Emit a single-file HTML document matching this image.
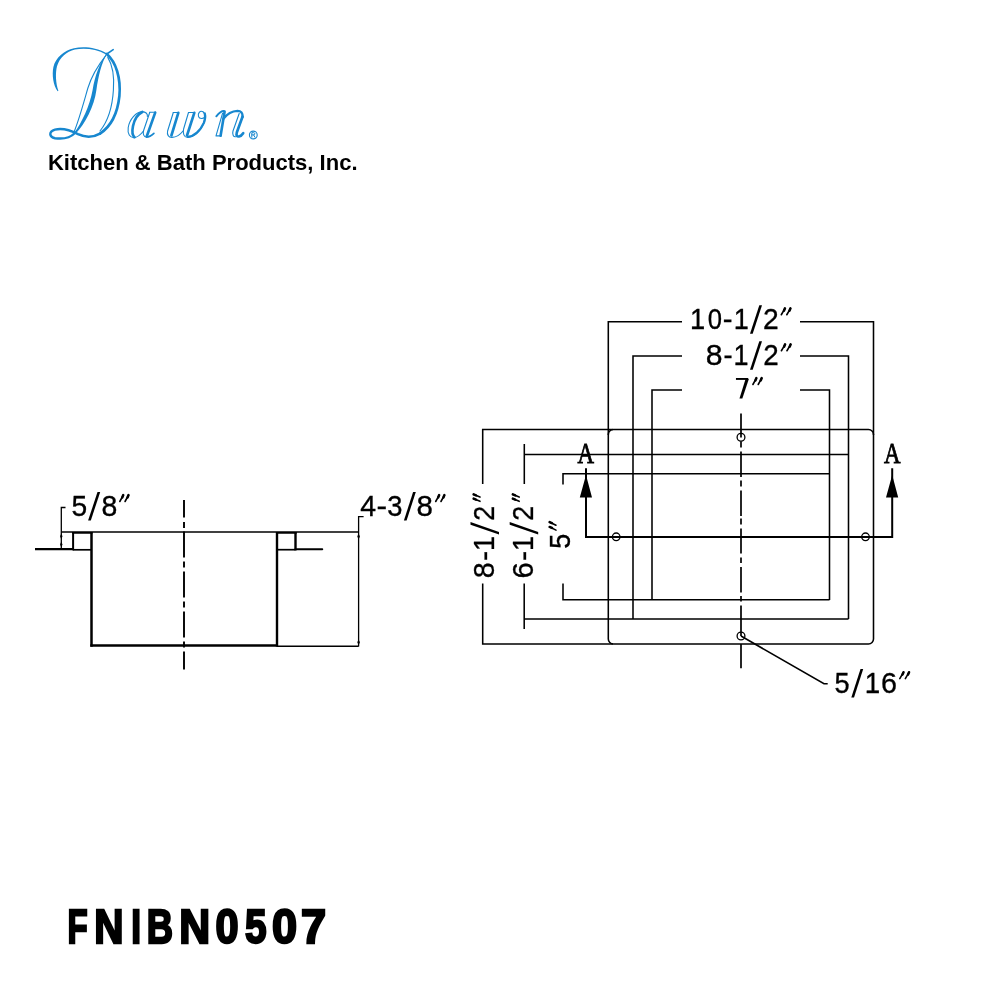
<!DOCTYPE html>
<html><head><meta charset="utf-8">
<style>
html,body{margin:0;padding:0;background:#fff;width:1000px;height:1000px;overflow:hidden}
svg{display:block}
text{fill:#000}
svg{will-change:transform}
</style></head>
<body>
<svg width="1000" height="1000" viewBox="0 0 1000 1000">
<rect width="1000" height="1000" fill="#fff"/>
<g id="logo" fill="none" stroke="#1787cf" stroke-linecap="round" stroke-linejoin="round">
  <!-- D main stroke -->
  <path stroke-width="1.60" d="M113.2 49.6L106.8 54"/>
  <path stroke="none" fill="#1787cf" d="M107 53.8C101.5 63 98.4 76 96.4 90C94.4 106 85 124 75.8 133.6L74.4 132.6C81.5 123 89.8 106 92.6 90C94.8 76 99.6 63.4 106.2 54.1Z"/>
  <path stroke-width="2.45" d="M75 133C70 138 62 139.2 55 138.2C49 137 48.5 131.5 55 129.6C62 127.8 70 130 78 134.2C85 137.5 93 137.6 100 133.6"/>
  <path stroke-width="2.65" d="M100 133.6C110 127 117.5 114 119.4 96C121 78 116 62 106.8 54"/>
  <path stroke="none" fill="#1787cf" d="M57.6 91.3C53.2 85 51.8 75 53.4 67C55.6 57.5 64 50.5 74 48.2C83 46.3 96 47 106.6 53.3L106.1 54.4C96 48.6 84 47.9 75 49.5C66.2 51.5 59.6 57.8 57 66.2C55.2 73 55.8 84 58.4 90.8Z"/>
  <!-- D inline thin -->
  <path stroke-width="1.10" d="M105.8 55.6C97.5 66 90.8 78.5 87.9 88C83.8 102 79 120 74 132"/>
  <path stroke-width="1.10" d="M107.8 57.4C112.8 65.5 114.3 78 113.4 90C112.5 105 108.5 120.5 100 131"/>
  <!-- a -->
  <path stroke-width="1.10" d="M142.3 111.6C136 112 129.5 119 128.2 127.5C127.3 134 130 137.8 134 137.6C137 137.4 140 135.5 143.5 131"/>
  <path stroke-width="2.65" d="M142.3 112C138 114 134.5 119 133 126C132 131 132.5 135.5 134.5 137.2"/>
  <path stroke-width="1.10" d="M142.3 111.6C145.5 111.8 147.8 113.5 147.4 116.5"/>
  <path stroke-width="2.65" d="M155.2 112.6L146.7 136.5"/>
  <path stroke-width="1.10" d="M149.8 112.3L143.6 130.5C142.5 134 144 137.2 146.6 137"/>
  <path stroke-width="1.10" d="M149.8 112.3H155.6"/>
  <path stroke-width="1.70" d="M146.6 137C149 137 151.5 135.5 153.9 133.3"/>
  <!-- w -->
  <path stroke-width="1.10" d="M173.3 112.5H178.5M188.5 112.5H194.5"/>
  <path stroke-width="2.65" d="M178.3 112.8L171.4 135.5"/>
  <path stroke-width="1.10" d="M173.3 112.5L167.6 131C166.8 134.5 168.5 137.6 172 137.4C176 137.2 180 135 183 131"/>
  <path stroke-width="2.65" d="M194.3 112.8L187 135.5"/>
  <path stroke-width="1.10" d="M188.5 112.5L183.6 129C182.6 133.5 184 137.4 187.5 137.4C193 137.4 199 133 202.5 126C205.5 120 206 114 203 111.8C200 110 197.5 113.5 198.5 116.5C199.5 119 203 119 205 117"/>
  <path stroke-width="2.25" d="M188 136.8C194 136.5 200.5 130.5 203.8 123C205.2 119.5 205.5 116 204.8 113.5"/>
  <!-- n -->
  <path stroke-width="1.90" d="M216.3 116.3C218.5 113.5 221 111 223.8 111"/>
  <path stroke-width="2.65" d="M224.6 111.6L220.6 135.6"/>
  <path stroke-width="1.10" d="M222.6 113.2L216 135.9H221.5"/>
  <path stroke-width="2.35" d="M223.6 118.6C227 114 232 111 237.5 110.8C241 110.8 243 113 242.5 117"/>
  <path stroke-width="2.65" d="M242.6 116.5L236.8 132.5C236 135.5 237 136.8 239 136.5C240.5 136.2 242 135 243.2 133.2"/>
  <path stroke-width="1.10" d="M239.2 113.5L233 131C232 134.5 233.5 137 235.5 136.8"/>
  <circle stroke-width="1.10" cx="253.3" cy="135" r="3.9"/>
  <path stroke-width="1.00" d="M251.8 137.3V132.7H253.8C255.2 132.7 255.2 134.9 253.8 134.9H251.8M253.6 134.9L255 137.3"/>
</g>
<g fill="none" stroke="#000">
  <path d="M35 549.2H73.1" stroke-width="2.2"/>
  <path d="M73.1 532V550.3" stroke-width="2"/>
  <path d="M72.1 532.9H92.5M276 532.9H296.7" stroke-width="1.9"/>
  <path d="M73 549.8H91.5" stroke-width="1.7"/>
  <path d="M91.5 532V646.7" stroke-width="2.5"/>
  <path d="M90.3 645.5H277" stroke-width="2.5"/>
  <path d="M277 532V646.7" stroke-width="2.4"/>
  <path d="M276 549.7H295.5" stroke-width="1.7"/>
  <path d="M295.5 532V550.4" stroke-width="2.4"/>
  <path d="M295.5 549.3H322.2" stroke-width="2.1" stroke-linecap="round"/>
  <path d="M61.3 532.1H358.6" stroke-width="1.5"/>
  <path d="M277 646.3H358.6" stroke-width="1.5"/>
  <path d="M65.5 507.5H61.3V549" stroke-width="1.3"/>
  <path d="M363.6 516.6H358.6V646.5" stroke-width="1.3"/>
  <path d="M184 500V517.5M184 522V528M184 531.5V557.5M184 561.5V567.5M184 571.5V597.5M184 601.5V607.5M184 611.5V637.5M184 641.5V647.5M184 651.5V669.5" stroke-width="1.9"/>
  <path d="M61.3 533.5L62.5 536.3L61.3 539.2L60.1 536.3ZM61.3 541.6L62.5 544.4L61.3 547.2L60.1 544.4ZM358.6 533.6L359.9 536.6L358.6 539.6L357.3 536.6ZM358.6 639.4L359.9 642.3L358.6 645.2L357.3 642.3Z" fill="#000" stroke="none"/>
</g>
<g fill="none" stroke="#000" stroke-width="1.55">
  <path d="M682 321.8H608.3V435"/>
  <path d="M800 321.8H873.5V435"/>
  <path d="M682 356H633V619"/>
  <path d="M800 356H848.5V619"/>
  <path d="M682 390H652V600"/>
  <path d="M800 390H829.5V600"/>
  <rect x="608.3" y="429.5" width="265.2" height="214.4" rx="5"/>
  <path d="M482.7 484V429.5H613"/>
  <path d="M524.3 484V444M524.3 454.5H848.5"/>
  <path d="M563 484.5V473.75H829.5"/>
  <path d="M563 583.5V599.8H829.5"/>
  <path d="M524.2 583.5V629M524.2 619H848.5"/>
  <path d="M482.7 583.5V643.9H613"/>
  <path d="M741 413.5V437.5M741 441.2V447.5M741 451.5V477M741 480.5V486.5M741 490.5V516M741 518.5V524.5M741 528.5V553.5M741 557.5V563M741 567V592.5M741 596V601.5M741 605.5V636M741 644V668.3" stroke-width="1.7"/>
  <circle cx="741" cy="437.3" r="3.9" stroke-width="1.3"/>
  <circle cx="741" cy="636" r="3.9" stroke-width="1.3"/>
  <path d="M741 636L824 683.75H827.7"/>
  <path d="M586 468.25V537H892.2V468.25" stroke-width="2"/>
  <circle cx="616.2" cy="536.8" r="3.8" stroke-width="1.3"/>
  <circle cx="865.5" cy="536.8" r="3.8" stroke-width="1.3"/>
</g>
<path d="M586 475L579.8 497.6H592Z M892.2 475L886 497.6H898.2Z" fill="#000"/>
<g fill="#000">
<text x="47.98" y="170.40" font-family="Liberation Sans" font-weight="bold" font-size="22.90" textLength="309.53" lengthAdjust="spacingAndGlyphs">Kitchen &amp; Bath Products, Inc.</text>
<text x="577.49" y="462.80" font-family="Liberation Serif" font-weight="normal" font-size="30.30" textLength="16.53" lengthAdjust="spacingAndGlyphs" stroke="#000" stroke-width="0.9">A</text>
<text x="884.00" y="462.80" font-family="Liberation Serif" font-weight="normal" font-size="30.30" textLength="16.53" lengthAdjust="spacingAndGlyphs" stroke="#000" stroke-width="0.9">A</text>
<text x="67.38" y="942.60" font-family="Liberation Sans" font-weight="bold" font-size="48.40" textLength="20.14" lengthAdjust="spacingAndGlyphs" stroke="#000" stroke-width="2.4">F</text>
<text x="94.37" y="942.60" font-family="Liberation Sans" font-weight="bold" font-size="48.40" textLength="29.27" lengthAdjust="spacingAndGlyphs" stroke="#000" stroke-width="2.4">N</text>
<text x="131.14" y="942.60" font-family="Liberation Sans" font-weight="bold" font-size="48.40" textLength="9.80" lengthAdjust="spacingAndGlyphs" stroke="#000" stroke-width="2.4">I</text>
<text x="146.82" y="942.60" font-family="Liberation Sans" font-weight="bold" font-size="48.40" textLength="26.20" lengthAdjust="spacingAndGlyphs" stroke="#000" stroke-width="2.4">B</text>
<text x="179.23" y="942.60" font-family="Liberation Sans" font-weight="bold" font-size="48.40" textLength="30.94" lengthAdjust="spacingAndGlyphs" stroke="#000" stroke-width="2.4">N</text>
<text x="215.44" y="942.60" font-family="Liberation Sans" font-weight="bold" font-size="48.40" textLength="23.08" lengthAdjust="spacingAndGlyphs" stroke="#000" stroke-width="2.4">0</text>
<text x="244.96" y="942.60" font-family="Liberation Sans" font-weight="bold" font-size="48.40" textLength="21.56" lengthAdjust="spacingAndGlyphs" stroke="#000" stroke-width="2.4">5</text>
<text x="271.95" y="942.60" font-family="Liberation Sans" font-weight="bold" font-size="48.40" textLength="25.11" lengthAdjust="spacingAndGlyphs" stroke="#000" stroke-width="2.4">0</text>
<text x="300.92" y="942.60" font-family="Liberation Sans" font-weight="bold" font-size="48.40" textLength="25.11" lengthAdjust="spacingAndGlyphs" stroke="#000" stroke-width="2.4">7</text>
<g fill="#000">
<text x="689.99" y="328.75" font-family="Liberation Sans" font-weight="normal" font-size="30.00" textLength="15.17" lengthAdjust="spacingAndGlyphs" stroke="#000" stroke-width="0.34">1</text>
<text x="707.77" y="328.75" font-family="Liberation Sans" font-weight="normal" font-size="30.00" textLength="14.26" lengthAdjust="spacingAndGlyphs" stroke="#000" stroke-width="0.34">0</text>
<text x="722.87" y="328.75" font-family="Liberation Sans" font-weight="normal" font-size="30.00" textLength="9.77" lengthAdjust="spacingAndGlyphs" stroke="#000" stroke-width="0.34">-</text>
<text x="733.71" y="328.75" font-family="Liberation Sans" font-weight="normal" font-size="30.00" textLength="15.04" lengthAdjust="spacingAndGlyphs" stroke="#000" stroke-width="0.34">1</text>
<path d="M750.00 333.75L752.70 333.75L762.00 305.25L759.30 305.25Z"/>
<text x="763.05" y="328.75" font-family="Liberation Sans" font-weight="normal" font-size="30.00" textLength="15.70" lengthAdjust="spacingAndGlyphs" stroke="#000" stroke-width="0.34">2</text>
<path d="M784.87 308.55L781.30 314.75" stroke="#000" stroke-width="1.6" stroke-linecap="round"/><path d="M784.97 308.35L783.97 310.75" stroke="#000" stroke-width="2.5" stroke-linecap="round"/><path d="M790.37 308.55L786.80 314.75" stroke="#000" stroke-width="1.6" stroke-linecap="round"/><path d="M790.47 308.35L789.47 310.75" stroke="#000" stroke-width="2.5" stroke-linecap="round"/>
<text x="705.86" y="364.75" font-family="Liberation Sans" font-weight="normal" font-size="30.00" textLength="16.78" lengthAdjust="spacingAndGlyphs" stroke="#000" stroke-width="0.34">8</text>
<text x="723.46" y="364.75" font-family="Liberation Sans" font-weight="normal" font-size="30.00" textLength="9.08" lengthAdjust="spacingAndGlyphs" stroke="#000" stroke-width="0.34">-</text>
<text x="733.61" y="364.75" font-family="Liberation Sans" font-weight="normal" font-size="30.00" textLength="15.04" lengthAdjust="spacingAndGlyphs" stroke="#000" stroke-width="0.34">1</text>
<path d="M750.00 369.75L752.70 369.75L762.00 341.25L759.30 341.25Z"/>
<text x="763.27" y="364.75" font-family="Liberation Sans" font-weight="normal" font-size="30.00" textLength="15.46" lengthAdjust="spacingAndGlyphs" stroke="#000" stroke-width="0.34">2</text>
<path d="M785.01 344.55L781.40 350.75" stroke="#000" stroke-width="1.6" stroke-linecap="round"/><path d="M785.11 344.35L784.11 346.75" stroke="#000" stroke-width="2.5" stroke-linecap="round"/><path d="M790.56 344.55L786.95 350.75" stroke="#000" stroke-width="1.6" stroke-linecap="round"/><path d="M790.66 344.35L789.66 346.75" stroke="#000" stroke-width="2.5" stroke-linecap="round"/>
<path d="M735.95 378.95H748.25" stroke="#000" stroke-width="1.9"/><path d="M745.85 378.00L748.75 379.20L742.35 398.50L739.45 398.50Z"/>
<path d="M756.30 378.30L752.90 384.50" stroke="#000" stroke-width="1.6" stroke-linecap="round"/><path d="M756.40 378.10L755.40 380.50" stroke="#000" stroke-width="2.5" stroke-linecap="round"/><path d="M761.61 378.30L758.20 384.50" stroke="#000" stroke-width="1.6" stroke-linecap="round"/><path d="M761.71 378.10L760.71 380.50" stroke="#000" stroke-width="2.5" stroke-linecap="round"/>
<text x="834.58" y="692.60" font-family="Liberation Sans" font-weight="normal" font-size="30.00" textLength="15.09" lengthAdjust="spacingAndGlyphs" stroke="#000" stroke-width="0.34">5</text>
<path d="M851.30 697.60L854.00 697.60L863.20 669.10L860.50 669.10Z"/>
<text x="864.66" y="692.60" font-family="Liberation Sans" font-weight="normal" font-size="30.00" textLength="15.43" lengthAdjust="spacingAndGlyphs" stroke="#000" stroke-width="0.34">1</text>
<text x="881.01" y="692.60" font-family="Liberation Sans" font-weight="normal" font-size="30.00" textLength="15.98" lengthAdjust="spacingAndGlyphs" stroke="#000" stroke-width="0.34">6</text>
<path d="M903.41 672.40L899.80 678.60" stroke="#000" stroke-width="1.6" stroke-linecap="round"/><path d="M903.51 672.20L902.51 674.60" stroke="#000" stroke-width="2.5" stroke-linecap="round"/><path d="M908.96 672.40L905.35 678.60" stroke="#000" stroke-width="1.6" stroke-linecap="round"/><path d="M909.06 672.20L908.06 674.60" stroke="#000" stroke-width="2.5" stroke-linecap="round"/>
<text x="71.44" y="515.50" font-family="Liberation Sans" font-weight="normal" font-size="30.00" textLength="15.67" lengthAdjust="spacingAndGlyphs" stroke="#000" stroke-width="0.34">5</text>
<path d="M88.10 520.50L90.80 520.50L100.20 492.00L97.50 492.00Z"/>
<text x="101.43" y="515.50" font-family="Liberation Sans" font-weight="normal" font-size="30.00" textLength="15.83" lengthAdjust="spacingAndGlyphs" stroke="#000" stroke-width="0.34">8</text>
<path d="M123.16 495.30L119.80 501.50" stroke="#000" stroke-width="1.6" stroke-linecap="round"/><path d="M123.26 495.10L122.26 497.50" stroke="#000" stroke-width="2.5" stroke-linecap="round"/><path d="M128.42 495.30L125.05 501.50" stroke="#000" stroke-width="1.6" stroke-linecap="round"/><path d="M128.52 495.10L127.52 497.50" stroke="#000" stroke-width="2.5" stroke-linecap="round"/>
<text x="360.22" y="515.50" font-family="Liberation Sans" font-weight="normal" font-size="30.00" textLength="15.85" lengthAdjust="spacingAndGlyphs" stroke="#000" stroke-width="0.34">4</text>
<text x="376.56" y="515.50" font-family="Liberation Sans" font-weight="normal" font-size="30.00" textLength="10.58" lengthAdjust="spacingAndGlyphs" stroke="#000" stroke-width="0.34">-</text>
<text x="387.33" y="515.50" font-family="Liberation Sans" font-weight="normal" font-size="30.00" textLength="15.20" lengthAdjust="spacingAndGlyphs" stroke="#000" stroke-width="0.34">3</text>
<path d="M403.90 520.50L406.60 520.50L415.80 492.00L413.10 492.00Z"/>
<text x="416.59" y="515.50" font-family="Liberation Sans" font-weight="normal" font-size="30.00" textLength="16.43" lengthAdjust="spacingAndGlyphs" stroke="#000" stroke-width="0.34">8</text>
<path d="M439.06 495.30L435.70 501.50" stroke="#000" stroke-width="1.6" stroke-linecap="round"/><path d="M439.16 495.10L438.16 497.50" stroke="#000" stroke-width="2.5" stroke-linecap="round"/><path d="M444.32 495.30L440.95 501.50" stroke="#000" stroke-width="1.6" stroke-linecap="round"/><path d="M444.42 495.10L443.42 497.50" stroke="#000" stroke-width="2.5" stroke-linecap="round"/>
<g transform="rotate(-90)">
<text x="-578.28" y="494.00" font-family="Liberation Sans" font-weight="normal" font-size="30.00" textLength="15.95" lengthAdjust="spacingAndGlyphs" stroke="#000" stroke-width="0.34">8</text>
<text x="-560.99" y="494.00" font-family="Liberation Sans" font-weight="normal" font-size="30.00" textLength="10.18" lengthAdjust="spacingAndGlyphs" stroke="#000" stroke-width="0.34">-</text>
<text x="-550.89" y="494.00" font-family="Liberation Sans" font-weight="normal" font-size="30.00" textLength="15.04" lengthAdjust="spacingAndGlyphs" stroke="#000" stroke-width="0.34">1</text>
<path d="M-534.60 499.00L-531.90 499.00L-522.00 470.50L-524.70 470.50Z"/>
<text x="-520.78" y="494.00" font-family="Liberation Sans" font-weight="normal" font-size="30.00" textLength="14.97" lengthAdjust="spacingAndGlyphs" stroke="#000" stroke-width="0.34">2</text>
<path d="M-498.76 473.80L-501.30 480.00" stroke="#000" stroke-width="1.6" stroke-linecap="round"/><path d="M-498.66 473.60L-499.66 476.00" stroke="#000" stroke-width="2.5" stroke-linecap="round"/><path d="M-494.51 473.80L-497.06 480.00" stroke="#000" stroke-width="1.6" stroke-linecap="round"/><path d="M-494.41 473.60L-495.41 476.00" stroke="#000" stroke-width="2.5" stroke-linecap="round"/>
<text x="-578.51" y="533.20" font-family="Liberation Sans" font-weight="normal" font-size="30.00" textLength="16.22" lengthAdjust="spacingAndGlyphs" stroke="#000" stroke-width="0.34">6</text>
<text x="-560.99" y="533.20" font-family="Liberation Sans" font-weight="normal" font-size="30.00" textLength="10.18" lengthAdjust="spacingAndGlyphs" stroke="#000" stroke-width="0.34">-</text>
<text x="-550.89" y="533.20" font-family="Liberation Sans" font-weight="normal" font-size="30.00" textLength="15.04" lengthAdjust="spacingAndGlyphs" stroke="#000" stroke-width="0.34">1</text>
<path d="M-534.60 538.20L-531.90 538.20L-522.00 509.70L-524.70 509.70Z"/>
<text x="-520.78" y="533.20" font-family="Liberation Sans" font-weight="normal" font-size="30.00" textLength="14.97" lengthAdjust="spacingAndGlyphs" stroke="#000" stroke-width="0.34">2</text>
<path d="M-498.76 513.00L-501.30 519.20" stroke="#000" stroke-width="1.6" stroke-linecap="round"/><path d="M-498.66 512.80L-499.66 515.20" stroke="#000" stroke-width="2.5" stroke-linecap="round"/><path d="M-494.51 513.00L-497.06 519.20" stroke="#000" stroke-width="1.6" stroke-linecap="round"/><path d="M-494.41 512.80L-495.41 515.20" stroke="#000" stroke-width="2.5" stroke-linecap="round"/>
<text x="-548.72" y="570.00" font-family="Liberation Sans" font-weight="normal" font-size="30.00" textLength="15.09" lengthAdjust="spacingAndGlyphs" stroke="#000" stroke-width="0.34">5</text>
<path d="M-527.06 549.80L-530.10 556.00" stroke="#000" stroke-width="1.6" stroke-linecap="round"/><path d="M-526.96 549.60L-527.96 552.00" stroke="#000" stroke-width="2.5" stroke-linecap="round"/><path d="M-522.22 549.80L-525.25 556.00" stroke="#000" stroke-width="1.6" stroke-linecap="round"/><path d="M-522.12 549.60L-523.12 552.00" stroke="#000" stroke-width="2.5" stroke-linecap="round"/>
</g></g>
</g>
</svg>
</body></html>
